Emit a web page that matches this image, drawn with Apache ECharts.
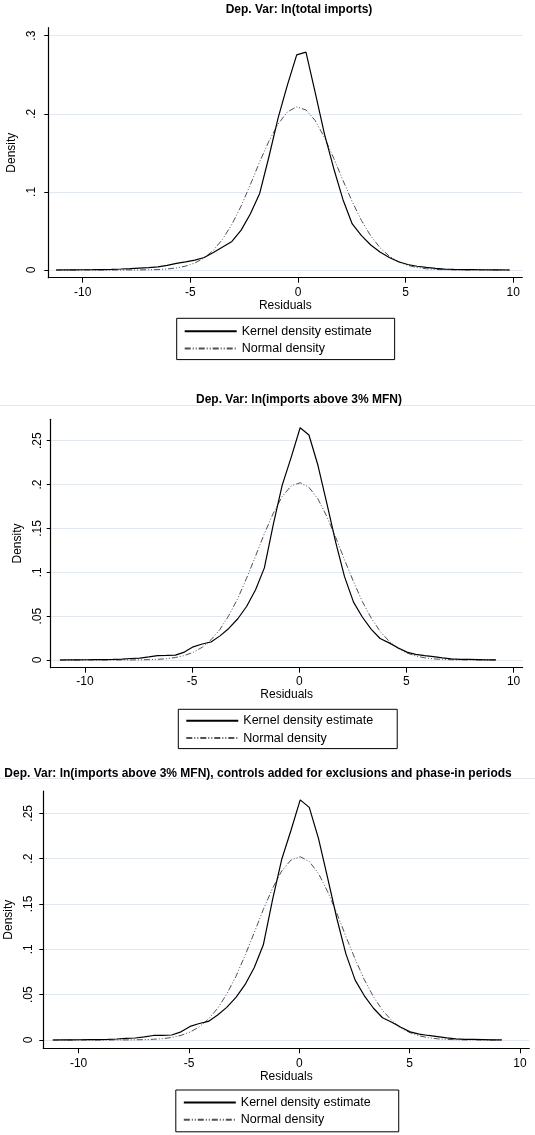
<!DOCTYPE html>
<html>
<head>
<meta charset="utf-8">
<title>Residual densities</title>
<script src="https://cdn.jsdelivr.net/npm/echarts@6/dist/echarts.min.js"></script>
<style>
  html, body { margin: 0; padding: 0; background: #fff; }
  #main { width: 535px; height: 1135px; }
</style>
</head>
<body>
<div id="main"></div>
<script>
// ---- data ----
const titles = [
  'Dep. Var: ln(total imports)',
  'Dep. Var: ln(imports above 3% MFN)',
  'Dep. Var: ln(imports above 3% MFN), controls added for exclusions and phase-in periods'
];
const seriesNames = ['Kernel density estimate', 'Normal density'];
const xTicks = [-10, -5, 0, 5, 10];
const yTicks1 = [0, 0.1, 0.2, 0.3];
const yTicks2 = [0, 0.05, 0.1, 0.15, 0.2, 0.25];

// panel 1: ln(total imports)
const resX1 = [-11.24, -10.81, -10.38, -9.95, -9.52, -9.09, -8.66, -8.23, -7.80, -7.37,
  -6.94, -6.51, -6.08, -5.65, -5.22, -4.79, -4.36, -3.93, -3.50, -3.07,
  -2.64, -2.21, -1.78, -1.35, -0.92, -0.49, -0.06, 0.37, 0.80, 1.23,
  1.66, 2.09, 2.52, 2.95, 3.38, 3.81, 4.24, 4.67, 5.10, 5.53,
  5.96, 6.39, 6.82, 7.25, 7.68, 8.11, 8.54, 8.97, 9.40, 9.83];
const kernel1 = [0, 0.0001, 0.0002, 0.0003, 0.0004, 0.0006, 0.0009, 0.0013, 0.0018, 0.0024,
  0.0030, 0.0040, 0.0060, 0.0085, 0.0105, 0.0127, 0.0160, 0.0225, 0.0295, 0.0365,
  0.0510, 0.0720, 0.0980, 0.1450, 0.1950, 0.2370, 0.2755, 0.2790, 0.2270, 0.1740,
  0.1300, 0.0900, 0.0590, 0.0440, 0.0320, 0.0230, 0.0160, 0.0105, 0.0070, 0.0048,
  0.0033, 0.0022, 0.0012, 0.0007, 0.0005, 0.0004, 0.0003, 0.0002, 0.0001, 0];
const normal1 = [0, 0, 0, 0, 0, 0, 0, 0, 0.0001, 0.0001,
  0.0003, 0.0006, 0.0013, 0.0026, 0.0050, 0.0090, 0.0154, 0.0253, 0.0395, 0.0585,
  0.0820, 0.1095, 0.1385, 0.1650, 0.1870, 0.2025, 0.2088, 0.2049, 0.1913, 0.1697,
  0.1431, 0.1147, 0.0874, 0.0633, 0.0436, 0.0285, 0.0178, 0.0105, 0.0059, 0.0032,
  0.0016, 0.0007, 0.0003, 0.0001, 0, 0, 0, 0, 0, 0];

// panel 2: ln(imports above 3% MFN)
const resX2 = [-11.17, -10.76, -10.34, -9.93, -9.51, -9.10, -8.68, -8.27, -7.85, -7.44,
  -7.02, -6.61, -6.19, -5.78, -5.36, -4.95, -4.53, -4.12, -3.70, -3.29,
  -2.87, -2.46, -2.04, -1.63, -1.21, -0.80, -0.38, 0.04, 0.45, 0.87,
  1.28, 1.70, 2.11, 2.53, 2.94, 3.36, 3.77, 4.19, 4.60, 5.02,
  5.43, 5.85, 6.26, 6.68, 7.09, 7.51, 7.92, 8.34, 8.75, 9.17];
const kernel2 = [0, 0.0001, 0.0002, 0.0003, 0.0004, 0.0005, 0.0007, 0.0011, 0.0017, 0.0022,
  0.0035, 0.0050, 0.0052, 0.0055, 0.0090, 0.0150, 0.0182, 0.0205, 0.0275, 0.0360,
  0.0470, 0.0610, 0.0800, 0.1050, 0.1550, 0.1990, 0.2310, 0.2648, 0.2565, 0.2220,
  0.1790, 0.1340, 0.0950, 0.0660, 0.0490, 0.0350, 0.0245, 0.0195, 0.0140, 0.0090,
  0.0065, 0.0050, 0.0038, 0.0024, 0.0012, 0.0008, 0.0006, 0.0004, 0.0002, 0.0001];
const normal2 = [0, 0, 0, 0, 0, 0, 0, 0.0001, 0.0001, 0.0002,
  0.0004, 0.0008, 0.0015, 0.0028, 0.0051, 0.0088, 0.0145, 0.0230, 0.0349, 0.0506,
  0.0702, 0.0932, 0.1185, 0.1440, 0.1675, 0.1864, 0.1984, 0.2021, 0.1969, 0.1836,
  0.1638, 0.1398, 0.1142, 0.0893, 0.0667, 0.0477, 0.0327, 0.0214, 0.0134, 0.0080,
  0.0046, 0.0025, 0.0013, 0.0007, 0.0003, 0.0001, 0.0001, 0, 0, 0];

// panel 3 shows the same curves as panel 2 (controls barely move them)
const resX3 = resX2;
const kernel3 = kernel2;
const normal3 = normal2;

// ---- layout ----
const FONT = '"Liberation Sans", Arial, Helvetica, sans-serif';
const panels = [
  { title: titles[0], tx: 299, ty: 9.3,
    grid: { left: 48.3, top: 27.7, width: 474, height: 250 },
    yMin: -0.00986, yMax: 0.3102, yTicks: yTicks1, xLabelGap: 9, yLabelGap: 10.5, yNameGap: 20,
    legend: { left: 176.7, top: 318.3, padding: [6, 23, 4, 7] },
    x: resX1, k: kernel1, n: normal1 },
  { title: titles[1], tx: 299, ty: 399.3,
    grid: { left: 50.7, top: 419.3, width: 471.9, height: 248.4 },
    yMin: -0.00878, yMax: 0.2744, yTicks: yTicks2, xLabelGap: 8, yLabelGap: 7.5, yNameGap: 20,
    legend: { left: 178.3, top: 709.3, padding: [4.5, 24, 3.5, 7] },
    x: resX2, k: kernel2, n: normal2 },
  { title: titles[2], tx: 258, ty: 773.3,
    grid: { left: 43.3, top: 791, width: 486, height: 257.3 },
    yMin: -0.00915, yMax: 0.2746, yTicks: yTicks2, xLabelGap: 9, yLabelGap: 8.5, yNameGap: 21,
    legend: { left: 175.8, top: 1090, padding: [5.5, 28, 5, 7] },
    x: resX3, k: kernel3, n: normal3 }
];

function pairs (xs, ys) {
  return xs.map((v, i) => [v, ys[i]]);
}

function yLabel (v) {
  if (v === 0) return '0';
  return String(+v.toFixed(3)).replace(/^0/, '');
}

const chart = echarts.init(document.getElementById('main'), null, { renderer: 'canvas' });

const option = {
  animation: false,
  backgroundColor: '#fff',
  textStyle: { fontFamily: FONT },
  title: [], grid: [], xAxis: [], yAxis: [], legend: [], series: [],
  graphic: [
    // faint borders between the stacked graphs
    { type: 'line', shape: { x1: 0, y1: 405.5, x2: 535, y2: 405.5 }, style: { stroke: '#e2e7f0', lineWidth: 1 } },
    { type: 'line', shape: { x1: 0, y1: 778.5, x2: 535, y2: 778.5 }, style: { stroke: '#e2e7f0', lineWidth: 1 } }
  ]
};

panels.forEach((p, i) => {
  option.title.push({
    text: p.title, left: p.tx, top: p.ty, padding: 0,
    textAlign: 'center', textVerticalAlign: 'middle',
    textStyle: { fontFamily: FONT, fontSize: 12, fontWeight: 'bold', color: '#000' }
  });
  option.grid.push(Object.assign({ outerBoundsMode: 'none', containLabel: false }, p.grid));
  option.xAxis.push({
    type: 'value', gridIndex: i, min: -11.6, max: 10.42,
    name: 'Residuals', nameLocation: 'middle', nameGap: 20,
    nameTextStyle: { fontFamily: FONT, fontSize: 12, color: '#000' },
    axisLine: { onZero: false, lineStyle: { color: '#000', width: 1.2 } },
    axisTick: { customValues: xTicks, length: 5, lineStyle: { color: '#000' } },
    axisLabel: { customValues: xTicks, margin: p.xLabelGap, fontFamily: FONT, fontSize: 12, color: '#000' },
    splitLine: { show: false }
  });
  option.yAxis.push({
    type: 'value', gridIndex: i, min: p.yMin, max: p.yMax,
    name: 'Density', nameLocation: 'middle', nameGap: p.yNameGap,
    nameTextStyle: { fontFamily: FONT, fontSize: 12, color: '#000' },
    axisLine: { show: true, onZero: false, lineStyle: { color: '#000', width: 1.2 } },
    axisTick: { show: true, customValues: p.yTicks, length: 4, lineStyle: { color: '#000' } },
    axisLabel: { customValues: p.yTicks, rotate: 90, margin: p.yLabelGap, formatter: yLabel,
      fontFamily: FONT, fontSize: 12, color: '#000' },
    splitLine: { show: true, lineStyle: { color: '#e1e8f0', width: 1 } }
  });
  option.legend.push({
    left: p.legend.left, top: p.legend.top, padding: p.legend.padding,
    orient: 'vertical', itemWidth: 52, itemHeight: 14, itemGap: 3.3,
    borderColor: '#000', borderWidth: 1, borderRadius: 0,
    selectedMode: false, itemStyle: { opacity: 0 },
    textStyle: { fontFamily: FONT, fontSize: 12.5, color: '#000', lineHeight: 14 },
    data: seriesNames
  });
  option.series.push({
    name: seriesNames[0], type: 'line', xAxisIndex: i, yAxisIndex: i,
    data: pairs(p.x, p.k), symbol: 'none', z: 3,
    lineStyle: { color: '#000', width: 1.2 }, itemStyle: { color: '#000' }
  });
  option.series.push({
    name: seriesNames[1], type: 'line', xAxisIndex: i, yAxisIndex: i,
    data: pairs(p.x, p.n), symbol: 'none', z: 2,
    lineStyle: { color: '#505050', width: 1, type: [6, 2, 1, 2, 1, 2] }, itemStyle: { color: '#505050' }
  });
});

chart.setOption(option);
</script>
</body>
</html>
